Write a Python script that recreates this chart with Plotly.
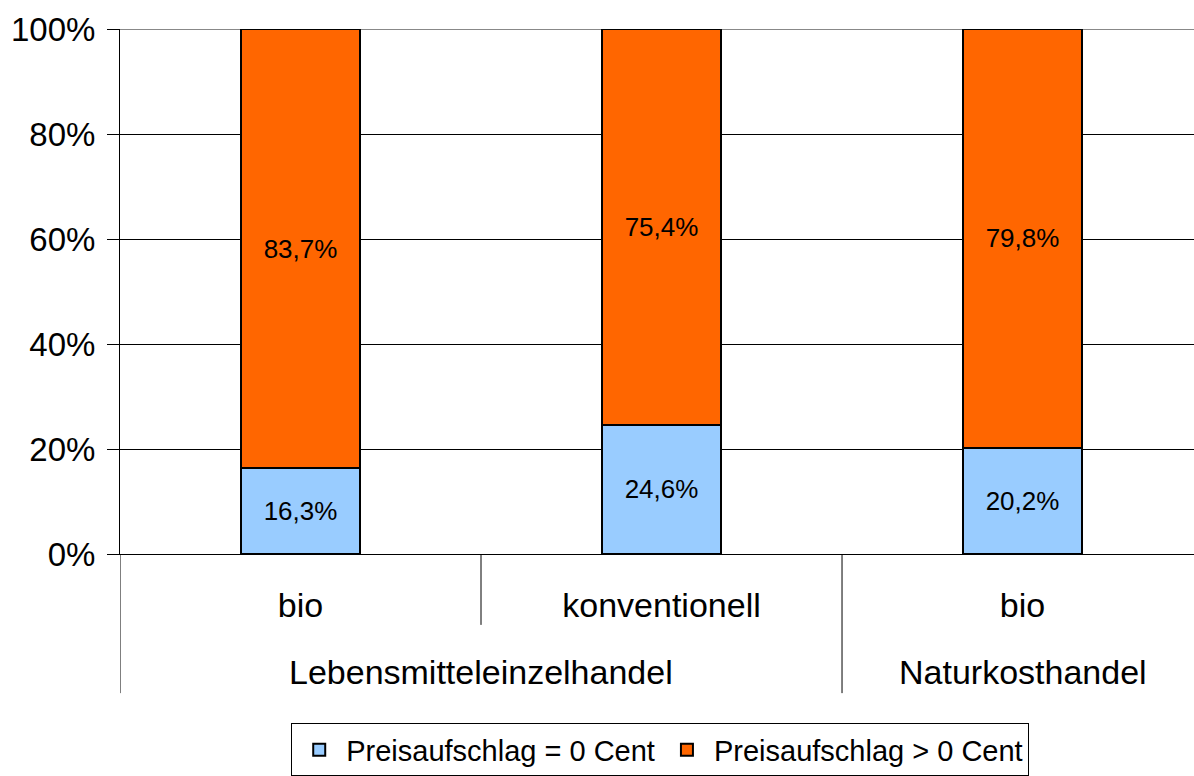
import plotly.graph_objects as go

# Survey shares per outlet type / product kind
categories = ["bio", "konventionell", "bio"]
groups = ["Lebensmitteleinzelhandel", "Lebensmitteleinzelhandel", "Naturkosthandel"]
zero_markup = [16.3, 24.6, 20.2]
positive_markup = [83.7, 75.4, 79.8]
series_names = ["Preisaufschlag = 0 Cent", "Preisaufschlag > 0 Cent"]
y_ticks = [0, 20, 40, 60, 80, 100]

FONT = "Liberation Sans, Arial, sans-serif"
x_pos = list(range(len(categories)))


def de_pct(v):
    return f"{v:.1f}".replace(".", ",") + "%"


fig = go.Figure()
for name, vals, color in [
    (series_names[0], zero_markup, "#99CCFF"),
    (series_names[1], positive_markup, "#FF6600"),
]:
    fig.add_trace(go.Bar(
        x=x_pos, y=vals, name=name,
        marker=dict(color=color, line=dict(color="black", width=2)),
        width=0.332,
        text=[de_pct(v) for v in vals],
        textposition="inside", insidetextanchor="middle",
        textfont=dict(family=FONT, size=26, color="black"),
        textangle=0,
    ))

# Category separators below the plot area
fig.add_shape(type="line", xref="x", yref="paper", x0=-0.5, x1=-0.5, y0=0, y1=-0.265,
              line=dict(color="black", width=1))
fig.add_shape(type="line", xref="x", yref="paper", x0=1.5, x1=1.5, y0=0, y1=-0.265,
              line=dict(color="black", width=1))
fig.add_shape(type="line", xref="x", yref="paper", x0=0.5, x1=0.5, y0=0, y1=-0.135,
              line=dict(color="black", width=1))
# Top boundary at 100 %
fig.add_shape(type="line", xref="paper", yref="y", x0=0, x1=1, y0=100, y1=100,
              line=dict(color="#888888", width=2), layer="below")

# Outer group labels
group_spans = {}
for i, g in enumerate(groups):
    group_spans.setdefault(g, []).append(i)
for g, idx in group_spans.items():
    fig.add_annotation(x=sum(idx) / len(idx), y=-0.2248, xref="x", yref="paper",
                       text=g, showarrow=False, yanchor="middle",
                       font=dict(family=FONT, size=34, color="black"))

fig.update_layout(
    barmode="stack",
    width=1194, height=776,
    margin=dict(l=120, r=0, t=29, b=222, autoexpand=False),
    plot_bgcolor="white", paper_bgcolor="white",
    font=dict(family=FONT, color="black"),
    showlegend=True,
    legend=dict(
        orientation="h", x=0.503, xanchor="center", y=-0.3225, yanchor="top",
        bordercolor="black", borderwidth=1,
        font=dict(family=FONT, size=29, color="black"),
        traceorder="normal", itemwidth=44,
    ),
    xaxis=dict(
        range=[-0.5, 2.475],
        tickvals=x_pos, ticktext=categories,
        tickfont=dict(family=FONT, size=34, color="black"),
        ticks="outside", ticklen=21, tickcolor="rgba(0,0,0,0)",
        showline=True, linecolor="black", linewidth=1,
        showgrid=False, zeroline=False,
    ),
    yaxis=dict(
        range=[0, 100],
        tickvals=y_ticks, ticktext=[f"{t}%" for t in y_ticks],
        tickfont=dict(family=FONT, size=33, color="black"),
        ticks="outside", ticklen=12, tickcolor="black",
        ticklabelstandoff=5,
        showline=True, linecolor="black", linewidth=1,
        showgrid=True, gridcolor="black", gridwidth=1,
        zeroline=False,
    ),
)

fig.write_html("out.html")
